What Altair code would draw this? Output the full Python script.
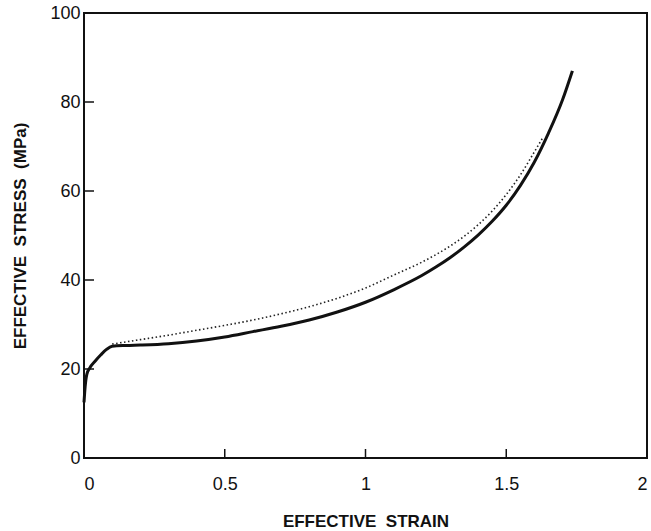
import altair as alt
import pandas as pd

# Solid curve (thick)
solid_strain = [0.0, 0.004, 0.01, 0.02, 0.04, 0.06, 0.08, 0.1, 0.15, 0.2, 0.3, 0.4, 0.5,
                0.6, 0.7, 0.8, 0.9, 1.0, 1.1, 1.2, 1.25, 1.3, 1.35, 1.4, 1.45, 1.5, 1.55,
                1.6, 1.65, 1.7, 1.735]
solid_stress = [12.5, 16.0, 18.8, 20.2, 21.8, 23.2, 24.4, 25.1, 25.3, 25.4, 25.7, 26.3, 27.2,
                28.4, 29.6, 31.0, 32.8, 35.0, 37.8, 41.0, 42.9, 45.0, 47.4, 50.1, 53.2, 56.8, 61.2,
                66.5, 73.0, 80.5, 87.0]

# Dotted curve
dot_strain = [0.1, 0.15, 0.2, 0.3, 0.4, 0.5, 0.6, 0.7, 0.8, 0.9, 1.0, 1.1, 1.2, 1.25, 1.3,
              1.35, 1.4, 1.45, 1.5, 1.55, 1.6, 1.63]
dot_stress = [25.6, 26.1, 26.6, 27.6, 28.7, 29.8, 31.0, 32.4, 34.0, 35.9, 38.2, 41.1, 44.0, 45.7,
              47.6, 49.8, 52.4, 55.5, 59.2, 63.6, 68.8, 72.0]

x_ticks = [0, 0.5, 1, 1.5, 2]
y_ticks = [0, 20, 40, 60, 80, 100]

W, H = 563, 445
FONT = "Liberation Sans"

solid_df = pd.DataFrame({"strain": solid_strain, "stress": solid_stress})
dot_df = pd.DataFrame({"strain": dot_strain, "stress": dot_stress})
xt_df = pd.DataFrame({"v": x_ticks})
yt_df = pd.DataFrame({"v": y_ticks})

xscale = alt.Scale(domain=[0, 2], nice=False, zero=False)
yscale = alt.Scale(domain=[0, 100], nice=False, zero=False)

x_axis = alt.Axis(
    values=x_ticks, format="~g", title="EFFECTIVE\u00a0 STRAIN",
    labelFont=FONT, labelFontSize=18, labelColor="#111", labelPadding=17,
    ticks=False, domain=False, grid=False,
    titleFont=FONT, titleFontSize=17, titleFontWeight="bold", titleColor="#111",
    titleY=68, titleBaseline="alphabetic",
)
y_axis = alt.Axis(
    values=y_ticks, format="d", title="EFFECTIVE\u00a0 STRESS\u00a0 (MPa)",
    labelFont=FONT, labelFontSize=18, labelColor="#111", labelPadding=4,
    ticks=False, domain=False, grid=False,
    titleFont=FONT, titleFontSize=17, titleFontWeight="bold", titleColor="#111",
    titleX=-59, titleBaseline="alphabetic",
)

solid = alt.Chart(solid_df).mark_line(
    color="#111", strokeWidth=3, interpolate="monotone"
).encode(
    x=alt.X("strain:Q", scale=xscale, axis=x_axis),
    y=alt.Y("stress:Q", scale=yscale, axis=y_axis),
)

dotted = alt.Chart(dot_df).mark_line(
    color="#222", strokeWidth=1.6, strokeDash=[1.5, 2.5], interpolate="monotone"
).encode(
    x=alt.X("strain:Q", scale=xscale, axis=x_axis),
    y=alt.Y("stress:Q", scale=yscale, axis=y_axis),
)

yticks = alt.Chart(yt_df).mark_rule(color="#111", strokeWidth=1.5).encode(
    y=alt.Y("v:Q", scale=yscale, axis=y_axis),
    x=alt.value(0), x2=alt.value(10),
)
xticks = alt.Chart(xt_df).mark_rule(color="#111", strokeWidth=1.5).encode(
    x=alt.X("v:Q", scale=xscale, axis=x_axis),
    y=alt.value(H), y2=alt.value(H - 9),
)

chart = alt.layer(solid, dotted, yticks, xticks).properties(
    width=W, height=H,
    autosize=alt.AutoSizeParams(type="none"),
    padding={"left": 84, "top": 13, "right": 4, "bottom": 73},
    background="white",
).configure_view(stroke="#111", strokeWidth=2)

chart.save("out.html", embed_options={"renderer": "svg", "actions": False})
